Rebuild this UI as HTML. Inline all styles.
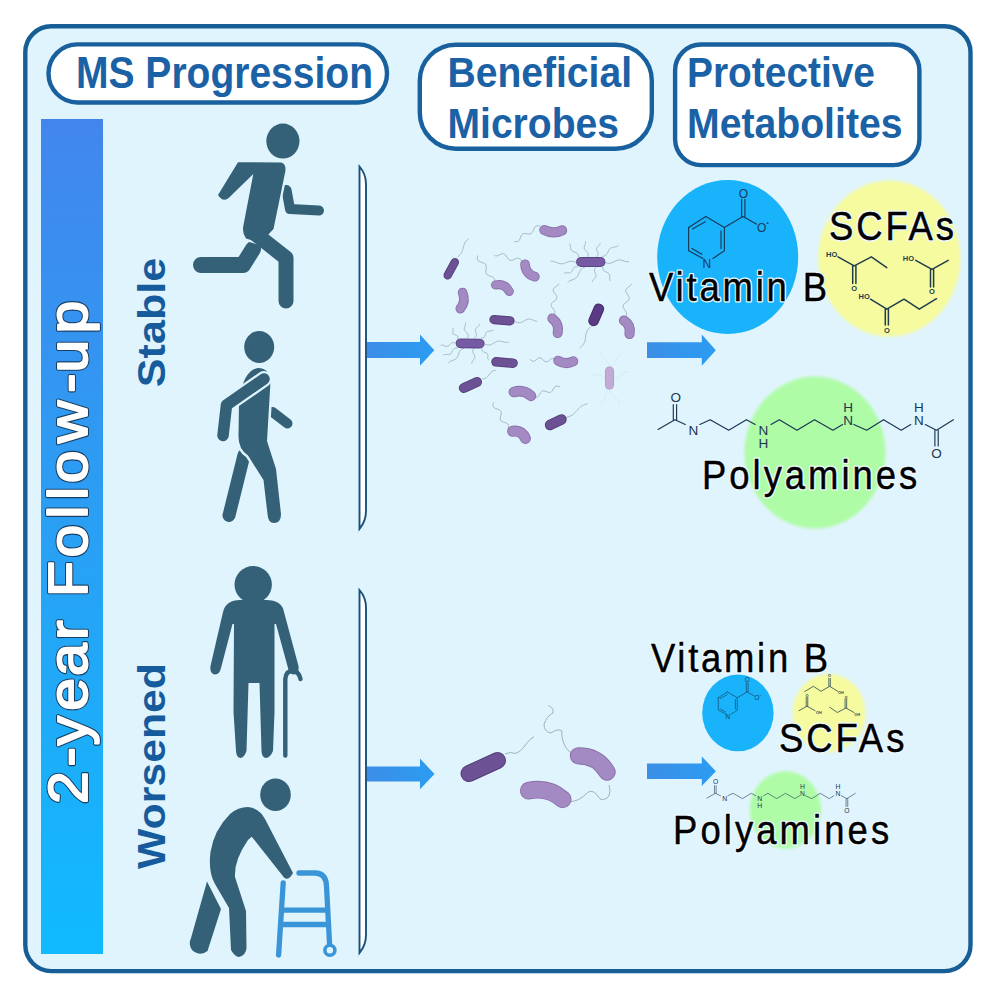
<!DOCTYPE html>
<html><head><meta charset="utf-8">
<style>
html,body{margin:0;padding:0;background:#fff;width:996px;height:996px;overflow:hidden}
svg{display:block}
text{font-family:"Liberation Sans",sans-serif}
</style></head>
<body>
<svg width="996" height="996" viewBox="0 0 996 996">
<defs>
<linearGradient id="bar" x1="0" y1="0" x2="0" y2="1">
<stop offset="0" stop-color="#4286ec"/>
<stop offset="1" stop-color="#10bafd"/>
</linearGradient>
<linearGradient id="arr" x1="0" y1="0" x2="1" y2="0"><stop offset="0" stop-color="#3c8ee6"/><stop offset="1" stop-color="#2b9cf2"/></linearGradient>
<filter id="soft" x="-10%" y="-10%" width="120%" height="120%"><feGaussianBlur stdDeviation="1.4"/></filter>
</defs>
<rect x="0" y="0" width="996" height="996" fill="#fff"/>
<!-- outer box -->
<rect x="25.3" y="26.3" width="945.2" height="944.8" rx="26" fill="#e0f4fd" stroke="#175e96" stroke-width="4.4"/>

<!-- header pills -->
<rect x="48.5" y="44.4" width="338.5" height="58.1" rx="29" fill="#fff" stroke="#18609e" stroke-width="4.4"/>
<rect x="419.8" y="44.7" width="232" height="104" rx="36" fill="#fff" stroke="#18609e" stroke-width="4.4"/>
<rect x="675.1" y="44.5" width="244.3" height="120.6" rx="26" fill="#fff" stroke="#18609e" stroke-width="4.4"/>

<g fill="#1b61a5" font-weight="bold">
<text id="t-ms" x="76" y="87.8" font-size="44.5" textLength="297" lengthAdjust="spacingAndGlyphs">MS Progression</text>
<text id="t-ben" x="447.5" y="87.3" font-size="42.7" textLength="184.5" lengthAdjust="spacingAndGlyphs">Beneficial</text>
<text id="t-mic" x="447.5" y="138.2" font-size="42.7" textLength="171.5" lengthAdjust="spacingAndGlyphs">Microbes</text>
<text id="t-pro" x="687" y="87.2" font-size="42.7" textLength="188" lengthAdjust="spacingAndGlyphs">Protective</text>
<text id="t-met" x="687" y="137.9" font-size="42.7" textLength="215.5" lengthAdjust="spacingAndGlyphs">Metabolites</text>
</g>

<!-- left bar -->
<rect x="41" y="119" width="62" height="835" fill="url(#bar)"/>
<g transform="translate(87,810) rotate(-90) scale(1,0.94)" font-size="59"><text id="t-fu" x="6.0 43.2 64.4 99.3 134.0 170.0 189.6 213.0 252.5 291.3 310.0 326.8 366.7 416.9 437.4 476.5" y="0" fill="#183e62" stroke="#183e62" stroke-width="4.2" stroke-linejoin="round">2-year Follow-up</text><text x="6.0 43.2 64.4 99.3 134.0 170.0 189.6 213.0 252.5 291.3 310.0 326.8 366.7 416.9 437.4 476.5" y="0" fill="#fff" stroke="#fff" stroke-width="2.0" stroke-linejoin="round">2-year Follow-up</text></g>

<text id="t-st" transform="translate(165,387.2) rotate(-90)" x="0" y="0" font-size="39" font-weight="bold" fill="#165b9c" textLength="129.5" lengthAdjust="spacingAndGlyphs">Stable</text>
<text id="t-wo" transform="translate(165,869) rotate(-90)" x="0" y="0" font-size="39" font-weight="bold" fill="#165b9c" textLength="206" lengthAdjust="spacingAndGlyphs">Worsened</text>

<!-- brackets -->
<path d="M359.5,166.5 L359.5,529 Q366,521 366,511 L366,184 Q366,174 359.5,166.5 Z" fill="#fff" stroke="#1a4f7c" stroke-width="1.9"/>
<path d="M359.5,590 L359.5,953 Q366,945 366,935 L366,607.5 Q366,597.5 359.5,590 Z" fill="#fff" stroke="#1a4f7c" stroke-width="1.9"/>

<!-- arrows -->
<g fill="url(#arr)">
<path d="M367,342 H420 V334.6 L434.3,350.2 L420,365.7 V358 H367 Z"/>
<path d="M647,342.3 H701.8 V334.6 L715.8,350.2 L701.8,365.7 V358 H647 Z"/>
<path d="M367,766.5 H420 V758.6 L434.5,774 L420,789.3 V781.5 H367 Z"/>
<path d="M647,763.5 H701.8 V756.5 L715.9,771.2 L701.8,786 V779 H647 Z"/>
</g>

<!-- metabolite circles -->
<ellipse cx="727.7" cy="257" rx="70.5" ry="77" fill="#18b3fa"/>
<ellipse cx="889.3" cy="258.6" rx="71" ry="78" fill="#f6fb9f" filter="url(#soft)"/>
<ellipse cx="815" cy="452.6" rx="70.5" ry="76" fill="#affca7" filter="url(#soft)"/>
<ellipse cx="737.9" cy="712.9" rx="35.7" ry="38.4" fill="#18b3fa"/>
<ellipse cx="829" cy="713" rx="36.5" ry="39" fill="#f6fb9f" filter="url(#soft)"/>
<ellipse cx="785.5" cy="810" rx="35.8" ry="38.7" fill="#affca7" filter="url(#soft)"/>

<g id="figs" fill="#346178" stroke="none">
<!-- runner -->
<ellipse cx="282.9" cy="141.1" rx="16.6" ry="17.5"/>
<polyline points="286.5,190 290,209 319,210.5" fill="none" stroke="#346178" stroke-width="10" stroke-linecap="round" stroke-linejoin="round"/>
<polyline points="253,249 243,265 201,265" fill="none" stroke="#346178" stroke-width="16" stroke-linecap="round" stroke-linejoin="round"/>
<path d="M238,162.2 L281,162.4 Q286,163 285.4,171 L273.5,229 L260.5,243 L246,238.5 Q242,233 243.3,226 L253.3,174 L229.2,197.5 Q223,203 218,195 Z" fill="#e0f4fd" stroke="#e0f4fd" stroke-width="4.5" stroke-linejoin="round"/>
<path d="M238,162.2 L281,162.4 Q286,163 285.4,171 L273.5,229 L260.5,243 L246,238.5 Q242,233 243.3,226 L253.3,174 L229.2,197.5 Q223,203 218,195 Z"/>
<polyline points="253,232 286,258 286,301" fill="none" stroke="#346178" stroke-width="15" stroke-linecap="round" stroke-linejoin="round"/>

<!-- walker -->
<ellipse cx="259.2" cy="347" rx="15" ry="16"/>
<polyline points="272.5,412 287.5,423.5" fill="none" stroke="#346178" stroke-width="10" stroke-linecap="round"/>
<polyline points="244,455 229,515.5" fill="none" stroke="#346178" stroke-width="13" stroke-linecap="round"/>
<path d="M258,368 Q271,368 270.3,385 L267,441 L276,469 L281,514 Q281,523 274,523 Q268,523 267.5,514 L263.5,480 L248,455.5 Q238,449 238.5,435 L239,402 Q243,370 258,368 Z" fill="#e0f4fd" stroke="#e0f4fd" stroke-width="5" stroke-linejoin="round"/>
<path d="M258,368 Q271,368 270.3,385 L267,441 L276,469 L281,514 Q281,523 274,523 Q268,523 267.5,514 L263.5,480 L248,455.5 Q238,449 238.5,435 L239,402 Q243,370 258,368 Z"/>
<polyline points="264,379 226.5,405 223,435.5" fill="none" stroke="#e0f4fd" stroke-width="16" stroke-linecap="round" stroke-linejoin="round"/>
<polyline points="264,379 226.5,405 223,435.5" fill="none" stroke="#346178" stroke-width="11.5" stroke-linecap="round" stroke-linejoin="round"/>

<!-- old man with cane -->
<ellipse cx="253.2" cy="584.6" rx="18.7" ry="18.6"/>
<path d="M240,600 L266,600 Q282,600 284,612 L298.5,666 Q299.5,674 293.5,674.5 Q289,674.5 288,668 L276,624 L274.5,624 L274.5,712 L273,751 Q270,758 266,758 Q262,758 261.5,751 L259.5,683 L248.5,683 L246.5,751 Q244,758 240.5,758 Q236.5,758 236,751 L233.5,712 L234,624 L232.5,624 L221,668 Q219.5,674.5 215,674.5 Q209.5,673.5 210.5,666 L223,612 Q226,600 240,600 Z"/>
<path d="M285.3,755.5 L285.3,679 Q286,671 292,671 Q299,671 300.5,679" fill="none" stroke="#346178" stroke-width="4.4" stroke-linecap="round"/>

<!-- bent man with walker frame -->
<ellipse cx="275.5" cy="794.8" rx="15.3" ry="16.2"/>
<path d="M207,881.5 L221,909 L207.5,951 Q200,957 192,950 Q188,944 191,938 Z" />
<path d="M248,807 Q238,807 230,814 Q214,830 210.5,852 Q208,872 215,884 L229,908 L231,950 Q235,957 239,957 Q246,955 246.5,948 L246,911 L235,877 Q234,860 248,840 L251.7,836.7 L284.2,877.7 Q289,881 293,873 L265,819 Q259,808 248,807 Z" fill="#e0f4fd" stroke="#e0f4fd" stroke-width="5" stroke-linejoin="round"/>
<path d="M248,807 Q238,807 230,814 Q214,830 210.5,852 Q208,872 215,884 L229,908 L231,950 Q235,957 239,957 Q246,955 246.5,948 L246,911 L235,877 Q234,860 248,840 L251.7,836.7 L284.2,877.7 Q289,881 293,873 L265,819 Q259,808 248,807 Z"/>
<g fill="none" stroke="#3a95d8" stroke-width="5.3" stroke-linecap="round">
<path d="M283.2,883 L278.6,955"/>
<path d="M299,873 L315,873 Q326,873 326.5,886 L329.5,943"/>
<path d="M282.5,910.2 H326.5 M282,924.5 H327.5" stroke-linecap="butt"/>
</g>
<circle cx="329.9" cy="950.2" r="5" fill="none" stroke="#3a95d8" stroke-width="3.6"/>
</g>

<!--BACT_START-->
<g id="bact" fill="none">
<path d="M457.5,257.0 L458.2,256.4 L459.0,255.8 L459.7,255.1 L460.3,254.5 L460.9,253.8 L461.4,253.0 L461.8,252.2 L462.2,251.4 L462.5,250.5 L462.8,249.6 L463.0,248.7 L463.2,247.8 L463.5,246.8 L463.7,245.9 L464.0,245.0 L464.3,244.1 L464.7,243.3 L465.1,242.5 L465.6,241.7 L466.2,241.0 L466.8,240.4 L467.5,239.7 L468.3,239.1 L469.0,238.5" fill="none" stroke="#9db2ba" stroke-width="0.90" opacity="1.00"/>
<path d="M494.5,283.0 L494.7,281.3 L494.7,279.7 L494.2,278.4 L493.3,277.4 L491.9,276.7 L490.2,276.1 L488.6,275.6 L487.2,274.8 L486.3,273.8 L485.8,272.5 L485.8,271.0 L486.0,269.2 L486.2,267.5 L486.2,266.0 L485.7,264.7 L484.8,263.7 L483.4,262.9 L481.8,262.4 L480.1,261.8 L478.7,261.1 L477.8,260.1 L477.3,258.8 L477.3,257.2 L477.5,255.5" fill="none" stroke="#9db2ba" stroke-width="0.90" opacity="1.00"/>
<path d="M522.0,261.5 L521.2,260.2 L520.3,259.1 L519.2,258.4 L518.1,258.2 L516.8,258.3 L515.4,258.8 L514.0,259.5 L512.6,260.1 L511.3,260.4 L510.1,260.3 L509.1,259.7 L508.1,258.7 L507.3,257.5 L506.4,256.2 L505.6,255.0 L504.6,254.2 L503.5,253.7 L502.3,253.8 L500.9,254.2 L499.5,254.8 L498.1,255.5 L496.7,255.9 L495.5,255.9 L494.4,255.5" fill="none" stroke="#9db2ba" stroke-width="0.90" opacity="1.00"/>
<path d="M540.0,226.0 L538.4,225.8 L536.9,225.8 L535.7,226.2 L534.8,227.1 L534.1,228.4 L533.5,229.9 L532.9,231.4 L532.2,232.7 L531.3,233.5 L530.1,233.9 L528.6,234.0 L527.0,233.8 L525.4,233.5 L523.9,233.6 L522.7,234.0 L521.8,234.8 L521.1,236.1 L520.5,237.6 L519.9,239.1 L519.2,240.4 L518.3,241.3 L517.1,241.7 L515.6,241.7 L514.0,241.5" fill="none" stroke="#9db2ba" stroke-width="0.90" opacity="1.00"/>
<path d="M515.0,321.5 L515.9,321.9 L516.9,322.3 L517.8,322.5 L518.8,322.7 L519.7,322.7 L520.6,322.5 L521.5,322.3 L522.4,321.9 L523.3,321.4 L524.2,320.9 L525.1,320.4 L525.9,319.9 L526.8,319.5 L527.7,319.2 L528.6,319.1 L529.6,319.1 L530.5,319.2 L531.4,319.5 L532.4,319.9 L533.3,320.2 L534.3,320.6 L535.2,321.0 L536.2,321.3 L537.1,321.4" fill="none" stroke="#9db2ba" stroke-width="0.90" opacity="1.00"/>
<path d="M578.6,257.0 L578.5,256.2 L578.4,255.4 L578.1,254.7 L577.8,254.1 L577.4,253.5 L576.9,253.1 L576.2,252.7 L575.5,252.4 L574.7,252.2 L574.0,251.9 L573.2,251.6 L572.5,251.3 L572.0,250.9 L571.5,250.4 L571.1,249.8 L570.9,249.1 L570.7,248.4 L570.6,247.6 L570.5,246.8 L570.4,246.0 L570.2,245.3 L569.9,244.6 L569.5,244.0 L569.1,243.5" fill="none" stroke="#9db2ba" stroke-width="0.90" opacity="1.00"/>
<path d="M587.4,257.0 L587.7,256.3 L587.9,255.5 L588.1,254.8 L588.1,254.2 L588.0,253.5 L587.7,252.9 L587.3,252.3 L586.8,251.7 L586.3,251.2 L585.7,250.6 L585.2,250.0 L584.7,249.5 L584.4,248.9 L584.2,248.2 L584.2,247.6 L584.3,246.9 L584.5,246.2 L584.7,245.4 L585.0,244.7 L585.3,243.9 L585.5,243.2 L585.6,242.5 L585.5,241.9 L585.3,241.2" fill="none" stroke="#9db2ba" stroke-width="0.90" opacity="1.00"/>
<path d="M596.3,257.0 L596.8,256.5 L597.3,256.0 L597.7,255.4 L598.0,254.8 L598.1,254.2 L598.1,253.6 L598.0,253.0 L597.7,252.3 L597.4,251.6 L597.1,250.9 L596.8,250.3 L596.6,249.6 L596.5,249.0 L596.6,248.4 L596.8,247.8 L597.2,247.2 L597.6,246.7 L598.1,246.2 L598.7,245.6 L599.2,245.1 L599.6,244.6 L600.0,244.0 L600.2,243.4 L600.2,242.8" fill="none" stroke="#9db2ba" stroke-width="0.90" opacity="1.00"/>
<path d="M601.8,256.5 L602.7,256.3 L603.6,256.1 L604.5,255.9 L605.2,255.5 L605.9,255.0 L606.5,254.4 L607.0,253.7 L607.5,252.9 L607.9,252.0 L608.3,251.1 L608.7,250.3 L609.2,249.6 L609.7,248.9 L610.3,248.4 L611.1,247.9 L611.9,247.6 L612.8,247.4 L613.7,247.2 L614.6,247.0 L615.5,246.9 L616.4,246.6 L617.2,246.3 L617.9,245.8 L618.5,245.3" fill="none" stroke="#9db2ba" stroke-width="0.90" opacity="1.00"/>
<path d="M605.1,262.5 L606.1,262.8 L607.2,263.1 L608.2,263.3 L609.2,263.4 L610.2,263.3 L611.1,263.1 L612.1,262.7 L613.0,262.3 L614.0,261.8 L614.9,261.2 L615.9,260.8 L616.9,260.4 L617.8,260.1 L618.8,259.9 L619.8,259.9 L620.8,260.1 L621.8,260.3 L622.9,260.6 L623.9,261.0 L624.9,261.3 L625.9,261.6 L626.9,261.7 L627.9,261.7 L628.9,261.5" fill="none" stroke="#9db2ba" stroke-width="0.90" opacity="1.00"/>
<path d="M602.9,266.9 L602.9,267.7 L603.0,268.5 L603.1,269.2 L603.3,269.8 L603.7,270.4 L604.1,270.9 L604.7,271.3 L605.4,271.6 L606.1,271.9 L606.8,272.3 L607.5,272.6 L608.2,273.0 L608.7,273.4 L609.1,273.9 L609.4,274.5 L609.6,275.2 L609.7,276.0 L609.7,276.8 L609.7,277.6 L609.7,278.3 L609.8,279.1 L610.0,279.8 L610.2,280.4 L610.7,280.9" fill="none" stroke="#9db2ba" stroke-width="0.90" opacity="1.00"/>
<path d="M596.3,267.0 L595.8,267.6 L595.3,268.1 L594.9,268.7 L594.6,269.3 L594.4,270.0 L594.5,270.6 L594.6,271.3 L594.8,272.0 L595.1,272.8 L595.5,273.5 L595.7,274.2 L595.9,274.9 L596.0,275.6 L595.9,276.2 L595.7,276.8 L595.4,277.4 L594.9,278.0 L594.4,278.6 L593.9,279.1 L593.3,279.7 L592.9,280.3 L592.5,280.9 L592.3,281.5 L592.3,282.2" fill="none" stroke="#9db2ba" stroke-width="0.90" opacity="1.00"/>
<path d="M585.2,267.0 L584.2,267.4 L583.2,267.8 L582.4,268.3 L581.6,268.9 L580.9,269.5 L580.3,270.3 L579.8,271.2 L579.3,272.1 L578.9,273.1 L578.6,274.1 L578.2,275.1 L577.7,276.0 L577.1,276.8 L576.5,277.5 L575.7,278.2 L574.9,278.7 L574.0,279.1 L573.0,279.5 L572.0,279.9 L571.0,280.3 L570.1,280.7 L569.2,281.3 L568.5,281.9 L567.8,282.6" fill="none" stroke="#9db2ba" stroke-width="0.90" opacity="1.00"/>
<path d="M577.5,266.9 L576.7,266.8 L576.0,266.8 L575.3,266.9 L574.7,267.1 L574.2,267.4 L573.7,267.8 L573.3,268.4 L573.0,269.0 L572.7,269.7 L572.4,270.4 L572.1,271.1 L571.7,271.6 L571.3,272.1 L570.8,272.5 L570.2,272.7 L569.5,272.9 L568.8,272.9 L568.1,272.8 L567.3,272.8 L566.6,272.8 L565.9,272.8 L565.2,272.9 L564.7,273.2 L564.2,273.5" fill="none" stroke="#9db2ba" stroke-width="0.90" opacity="1.00"/>
<path d="M576.4,262.5 L575.3,262.1 L574.2,261.7 L573.1,261.4 L572.1,261.2 L571.0,261.2 L569.9,261.3 L568.8,261.6 L567.7,262.0 L566.6,262.4 L565.6,262.8 L564.5,263.2 L563.4,263.6 L562.3,263.7 L561.2,263.8 L560.1,263.7 L559.1,263.5 L558.0,263.1 L556.9,262.7 L555.8,262.3 L554.7,261.9 L553.6,261.5 L552.6,261.3 L551.5,261.2 L550.4,261.3" fill="none" stroke="#9db2ba" stroke-width="0.90" opacity="1.00"/>
<path d="M591.5,326.0 L590.7,326.7 L589.9,327.5 L589.1,328.3 L588.4,329.1 L587.8,329.9 L587.2,330.8 L586.8,331.8 L586.4,332.8 L586.1,333.8 L585.9,334.9 L585.7,335.9 L585.6,337.1 L585.5,338.2 L585.3,339.2 L585.1,340.3 L584.8,341.3 L584.4,342.3 L584.0,343.3 L583.4,344.2 L582.8,345.0 L582.1,345.8 L581.3,346.6 L580.5,347.4 L579.7,348.1" fill="none" stroke="#9db2ba" stroke-width="0.90" opacity="1.00"/>
<path d="M552.0,316.0 L553.5,314.8 L554.6,313.6 L555.0,312.3 L554.6,310.8 L553.6,309.3 L552.4,307.8 L551.4,306.3 L551.0,304.8 L551.5,303.5 L552.6,302.3 L554.2,301.1 L555.7,300.0 L556.7,298.7 L557.0,297.4 L556.6,295.9 L555.5,294.4 L554.3,292.9 L553.4,291.3 L553.1,289.9 L553.6,288.6 L554.8,287.4 L556.4,286.2 L557.9,285.1 L558.9,283.8" fill="none" stroke="#9db2ba" stroke-width="0.90" opacity="1.00"/>
<path d="M623.5,318.0 L625.1,316.8 L626.2,315.5 L626.7,314.1 L626.3,312.6 L625.4,310.9 L624.2,309.2 L623.3,307.6 L623.0,306.1 L623.5,304.7 L624.7,303.4 L626.3,302.2 L627.9,301.0 L629.0,299.7 L629.4,298.3 L628.9,296.7 L627.9,295.1 L626.8,293.4 L625.9,291.8 L625.7,290.3 L626.3,288.9 L627.5,287.6 L629.2,286.4 L630.7,285.2 L631.7,283.9" fill="none" stroke="#9db2ba" stroke-width="0.90" opacity="1.00"/>
<path d="M457.6,338.7 L457.7,338.1 L457.8,337.4 L457.8,336.9 L457.7,336.4 L457.4,336.0 L457.1,335.6 L456.6,335.3 L456.0,335.1 L455.4,334.9 L454.8,334.8 L454.2,334.5 L453.7,334.3 L453.2,334.0 L452.9,333.6 L452.8,333.1 L452.7,332.6 L452.8,332.0 L452.9,331.4 L453.0,330.7 L453.1,330.1 L453.1,329.5 L453.0,329.0 L452.9,328.5 L452.6,328.2" fill="none" stroke="#9db2ba" stroke-width="0.90" opacity="1.00"/>
<path d="M467.5,338.2 L467.8,337.5 L468.0,336.7 L468.2,336.0 L468.2,335.4 L468.1,334.7 L467.8,334.1 L467.4,333.5 L466.9,332.9 L466.4,332.4 L465.8,331.8 L465.3,331.2 L464.8,330.7 L464.5,330.1 L464.3,329.4 L464.3,328.8 L464.4,328.1 L464.6,327.4 L464.8,326.6 L465.1,325.9 L465.4,325.1 L465.6,324.4 L465.7,323.7 L465.6,323.1 L465.4,322.4" fill="none" stroke="#9db2ba" stroke-width="0.90" opacity="1.00"/>
<path d="M474.2,338.2 L474.8,337.7 L475.4,337.2 L475.8,336.7 L476.2,336.1 L476.4,335.5 L476.4,334.8 L476.3,334.1 L476.2,333.4 L475.9,332.6 L475.7,331.9 L475.5,331.2 L475.4,330.5 L475.4,329.8 L475.5,329.1 L475.8,328.5 L476.2,328.0 L476.7,327.5 L477.3,327.0 L477.9,326.5 L478.5,326.0 L479.0,325.4 L479.4,324.9 L479.7,324.3 L479.8,323.7" fill="none" stroke="#9db2ba" stroke-width="0.90" opacity="1.00"/>
<path d="M480.8,338.2 L481.6,338.2 L482.3,338.1 L483.0,337.9 L483.6,337.6 L484.1,337.3 L484.5,336.8 L484.9,336.2 L485.2,335.5 L485.4,334.8 L485.6,334.0 L485.9,333.3 L486.2,332.7 L486.6,332.1 L487.1,331.7 L487.6,331.4 L488.3,331.2 L489.0,331.1 L489.8,331.0 L490.5,330.9 L491.3,330.9 L492.0,330.8 L492.6,330.5 L493.2,330.2 L493.7,329.8" fill="none" stroke="#9db2ba" stroke-width="0.90" opacity="1.00"/>
<path d="M484.7,344.3 L485.7,344.6 L486.8,344.8 L487.8,345.0 L488.8,345.0 L489.8,344.9 L490.8,344.6 L491.7,344.2 L492.7,343.7 L493.6,343.2 L494.5,342.6 L495.5,342.1 L496.4,341.6 L497.4,341.3 L498.3,341.1 L499.3,341.0 L500.4,341.1 L501.4,341.3 L502.4,341.6 L503.5,341.9 L504.5,342.2 L505.6,342.4 L506.6,342.5 L507.6,342.4 L508.6,342.2" fill="none" stroke="#9db2ba" stroke-width="0.90" opacity="1.00"/>
<path d="M481.9,348.1 L481.9,348.8 L481.9,349.5 L482.0,350.1 L482.1,350.7 L482.4,351.1 L482.9,351.5 L483.4,351.8 L484.0,352.1 L484.7,352.3 L485.4,352.5 L486.0,352.8 L486.6,353.1 L487.1,353.4 L487.5,353.8 L487.7,354.4 L487.8,354.9 L487.9,355.6 L487.8,356.3 L487.8,357.0 L487.8,357.7 L487.8,358.4 L488.0,359.0 L488.2,359.5 L488.6,359.9" fill="none" stroke="#9db2ba" stroke-width="0.90" opacity="1.00"/>
<path d="M474.2,348.1 L473.7,348.7 L473.3,349.3 L473.0,350.0 L472.7,350.6 L472.7,351.2 L472.8,351.9 L473.0,352.6 L473.3,353.2 L473.7,353.9 L474.1,354.6 L474.4,355.3 L474.7,355.9 L474.8,356.6 L474.9,357.2 L474.7,357.9 L474.4,358.5 L474.0,359.1 L473.6,359.7 L473.1,360.4 L472.6,361.0 L472.3,361.6 L472.0,362.2 L471.8,362.9 L471.9,363.5" fill="none" stroke="#9db2ba" stroke-width="0.90" opacity="1.00"/>
<path d="M464.2,348.1 L463.3,348.5 L462.4,348.9 L461.5,349.3 L460.8,349.9 L460.2,350.6 L459.6,351.3 L459.2,352.2 L458.8,353.1 L458.5,354.0 L458.2,355.0 L457.9,355.9 L457.5,356.8 L457.0,357.6 L456.5,358.3 L455.8,358.9 L455.0,359.4 L454.1,359.9 L453.2,360.2 L452.2,360.6 L451.3,361.0 L450.4,361.4 L449.7,361.9 L449.0,362.5 L448.4,363.3" fill="none" stroke="#9db2ba" stroke-width="0.90" opacity="1.00"/>
<path d="M457.6,348.1 L456.8,348.1 L456.0,348.1 L455.3,348.2 L454.6,348.4 L454.1,348.7 L453.6,349.2 L453.1,349.8 L452.7,350.4 L452.4,351.1 L452.0,351.8 L451.7,352.5 L451.2,353.2 L450.8,353.7 L450.2,354.1 L449.6,354.3 L448.9,354.5 L448.1,354.5 L447.4,354.5 L446.6,354.5 L445.8,354.5 L445.0,354.5 L444.3,354.7 L443.7,354.9 L443.2,355.3" fill="none" stroke="#9db2ba" stroke-width="0.90" opacity="1.00"/>
<path d="M455.4,343.2 L454.7,342.9 L454.0,342.7 L453.4,342.5 L452.7,342.5 L452.1,342.6 L451.5,342.9 L451.0,343.3 L450.5,343.8 L450.0,344.3 L449.5,344.9 L449.0,345.4 L448.4,345.9 L447.9,346.2 L447.3,346.4 L446.7,346.4 L446.0,346.3 L445.3,346.1 L444.6,345.9 L443.9,345.6 L443.3,345.3 L442.6,345.1 L441.9,345.0 L441.3,345.1 L440.7,345.3" fill="none" stroke="#9db2ba" stroke-width="0.90" opacity="1.00"/>
<path d="M482.0,379.0 L482.8,378.9 L483.5,378.8 L484.2,378.6 L484.9,378.4 L485.6,378.2 L486.2,377.8 L486.8,377.4 L487.3,377.0 L487.8,376.4 L488.3,375.8 L488.7,375.2 L489.1,374.6 L489.6,374.0 L490.0,373.4 L490.5,372.8 L491.0,372.2 L491.5,371.8 L492.1,371.4 L492.7,371.0 L493.4,370.8 L494.1,370.6 L494.8,370.4 L495.5,370.3 L496.3,370.2" fill="none" stroke="#9db2ba" stroke-width="0.90" opacity="1.00"/>
<path d="M533.0,396.5 L534.5,397.0 L535.8,397.3 L537.1,397.2 L538.1,396.5 L539.0,395.4 L539.8,394.1 L540.5,392.7 L541.4,391.6 L542.4,391.0 L543.7,390.8 L545.0,391.1 L546.5,391.6 L548.0,392.2 L549.3,392.5 L550.6,392.3 L551.6,391.7 L552.5,390.6 L553.2,389.2 L554.0,387.9 L554.9,386.8 L555.9,386.1 L557.2,386.0 L558.5,386.3 L560.0,386.8" fill="none" stroke="#9db2ba" stroke-width="0.90" opacity="1.00"/>
<path d="M556.0,360.5 L555.0,359.4 L553.9,358.7 L552.8,358.3 L551.8,358.6 L550.6,359.2 L549.5,360.2 L548.4,361.1 L547.2,361.8 L546.2,362.0 L545.1,361.7 L544.0,360.9 L543.0,359.9 L542.0,358.8 L540.9,358.0 L539.8,357.7 L538.8,357.9 L537.6,358.6 L536.5,359.5 L535.4,360.5 L534.2,361.1 L533.2,361.4 L532.1,361.0 L531.0,360.3 L530.0,359.2" fill="none" stroke="#9db2ba" stroke-width="0.90" opacity="1.00"/>
<path d="M609.5,367.0 L609.3,366.2 L609.1,365.5 L608.9,364.7 L608.6,364.0 L608.3,363.4 L608.0,362.7 L607.5,362.1 L607.1,361.5 L606.5,361.0 L606.0,360.5 L605.4,360.0 L604.8,359.5 L604.1,359.0 L603.5,358.5 L603.0,358.0 L602.4,357.5 L602.0,356.9 L601.5,356.3 L601.2,355.6 L600.9,355.0 L600.6,354.3 L600.4,353.5 L600.2,352.8 L600.0,352.0" fill="none" stroke="#9db2ba" stroke-width="0.90" opacity="0.18"/>
<path d="M609.5,367.0 L610.2,366.6 L610.9,366.3 L611.6,365.9 L612.2,365.4 L612.8,365.0 L613.3,364.4 L613.8,363.9 L614.3,363.3 L614.7,362.6 L615.1,361.9 L615.4,361.2 L615.8,360.5 L616.1,359.8 L616.4,359.1 L616.8,358.4 L617.2,357.7 L617.7,357.1 L618.2,356.6 L618.7,356.0 L619.3,355.6 L619.9,355.1 L620.6,354.7 L621.3,354.4 L622.0,354.0" fill="none" stroke="#9db2ba" stroke-width="0.90" opacity="0.18"/>
<path d="M609.5,389.0 L608.9,389.5 L608.3,390.0 L607.7,390.5 L607.2,391.0 L606.7,391.6 L606.3,392.2 L605.9,392.9 L605.6,393.5 L605.3,394.2 L605.1,395.0 L604.9,395.7 L604.8,396.5 L604.6,397.3 L604.4,398.0 L604.2,398.8 L603.9,399.5 L603.6,400.1 L603.2,400.8 L602.8,401.4 L602.3,402.0 L601.8,402.5 L601.2,403.0 L600.6,403.5 L600.0,404.0" fill="none" stroke="#9db2ba" stroke-width="0.90" opacity="0.18"/>
<path d="M609.5,389.0 L609.7,389.8 L610.0,390.6 L610.2,391.4 L610.5,392.1 L610.9,392.9 L611.3,393.5 L611.8,394.2 L612.3,394.8 L612.8,395.4 L613.5,395.9 L614.1,396.5 L614.8,397.0 L615.4,397.5 L616.0,398.1 L616.7,398.6 L617.2,399.2 L617.7,399.8 L618.2,400.5 L618.6,401.1 L619.0,401.9 L619.3,402.6 L619.5,403.4 L619.8,404.2 L620.0,405.0" fill="none" stroke="#9db2ba" stroke-width="0.90" opacity="0.18"/>
<path d="M605.0,378.0 L604.5,377.5 L603.9,377.0 L603.4,376.6 L602.8,376.2 L602.2,375.9 L601.6,375.6 L601.0,375.4 L600.3,375.2 L599.6,375.1 L598.9,375.0 L598.2,375.0 L597.5,375.0 L596.8,375.0 L596.1,375.0 L595.4,374.9 L594.7,374.8 L594.0,374.6 L593.4,374.4 L592.8,374.1 L592.2,373.8 L591.6,373.4 L591.1,373.0 L590.5,372.5 L590.0,372.0" fill="none" stroke="#9db2ba" stroke-width="0.90" opacity="0.18"/>
<path d="M614.0,378.0 L614.7,378.0 L615.4,378.0 L616.0,377.9 L616.7,377.8 L617.3,377.6 L617.9,377.4 L618.5,377.1 L619.0,376.8 L619.5,376.4 L620.0,376.0 L620.5,375.5 L621.0,375.0 L621.5,374.5 L622.0,374.0 L622.5,373.6 L623.0,373.2 L623.5,372.9 L624.1,372.6 L624.7,372.4 L625.3,372.2 L626.0,372.1 L626.6,372.0 L627.3,372.0 L628.0,372.0" fill="none" stroke="#9db2ba" stroke-width="0.90" opacity="0.18"/>
<path d="M566.0,417.5 L567.1,417.2 L568.1,416.9 L569.1,416.5 L570.1,416.1 L571.1,415.6 L572.0,415.1 L572.9,414.5 L573.7,413.8 L574.5,413.0 L575.3,412.3 L576.0,411.4 L576.8,410.6 L577.5,409.8 L578.2,408.9 L579.0,408.2 L579.8,407.4 L580.6,406.7 L581.5,406.1 L582.4,405.6 L583.4,405.1 L584.4,404.7 L585.4,404.3 L586.4,404.0 L587.5,403.7" fill="none" stroke="#9db2ba" stroke-width="0.90" opacity="1.00"/>
<path d="M508.0,429.0 L508.4,427.3 L508.5,425.8 L508.2,424.6 L507.3,423.6 L506.0,422.9 L504.4,422.4 L502.8,421.8 L501.4,421.1 L500.5,420.1 L500.2,418.9 L500.3,417.4 L500.8,415.7 L501.2,414.0 L501.3,412.5 L501.0,411.3 L500.1,410.3 L498.7,409.6 L497.1,409.0 L495.5,408.5 L494.2,407.8 L493.3,406.8 L493.0,405.6 L493.1,404.1 L493.5,402.4" fill="none" stroke="#9db2ba" stroke-width="0.90" opacity="1.00"/>
<path d="M454.8,262.3 L447.7,275.3" stroke="#533c78" stroke-width="8.4" stroke-linecap="round"/><path d="M454.8,262.3 L447.7,275.3" stroke="#6c5194" stroke-width="6.6" stroke-linecap="round"/>
<path d="M544.32,230.08 Q553.11,234.65 562.08,230.42" stroke="#8a70aa" stroke-width="10.2" stroke-linecap="round"/><path d="M544.32,230.08 Q553.11,234.65 562.08,230.42" stroke="#a48ac3" stroke-width="8.4" stroke-linecap="round"/>
<path d="M495.58,284.95 Q504.78,283.08 509.22,291.35" stroke="#8a70aa" stroke-width="9.2" stroke-linecap="round"/><path d="M495.58,284.95 Q504.78,283.08 509.22,291.35" stroke="#a48ac3" stroke-width="7.4" stroke-linecap="round"/>
<path d="M525.04,264.23 Q525.56,273.92 534.86,276.67" stroke="#8a70aa" stroke-width="9.7" stroke-linecap="round"/><path d="M525.04,264.23 Q525.56,273.92 534.86,276.67" stroke="#a48ac3" stroke-width="7.9" stroke-linecap="round"/>
<path d="M462.59,292.58 Q466.30,301.29 460.31,308.62" stroke="#8a70aa" stroke-width="9.7" stroke-linecap="round"/><path d="M462.59,292.58 Q466.30,301.29 460.31,308.62" stroke="#a48ac3" stroke-width="7.9" stroke-linecap="round"/>
<path d="M494.0,319.6 L510.0,320.8" stroke="#533c78" stroke-width="9.2" stroke-linecap="round"/><path d="M494.0,319.6 L510.0,320.8" stroke="#6c5194" stroke-width="7.4" stroke-linecap="round"/>
<path d="M581.0,262.0 L600.5,262.0" stroke="#5a4484" stroke-width="9.9" stroke-linecap="round"/><path d="M581.0,262.0 L600.5,262.0" stroke="#765aa3" stroke-width="8.1" stroke-linecap="round"/>
<path d="M598.8,308.8 L593.6,320.8" stroke="#452a6a" stroke-width="10.7" stroke-linecap="round"/><path d="M598.8,308.8 L593.6,320.8" stroke="#5a3a84" stroke-width="8.9" stroke-linecap="round"/>
<path d="M552.30,318.51 Q559.59,324.04 557.70,332.99" stroke="#8a70aa" stroke-width="10.0" stroke-linecap="round"/><path d="M552.30,318.51 Q559.59,324.04 557.70,332.99" stroke="#a48ac3" stroke-width="8.2" stroke-linecap="round"/>
<path d="M623.97,320.53 Q631.28,325.37 629.53,333.97" stroke="#8a70aa" stroke-width="10.2" stroke-linecap="round"/><path d="M623.97,320.53 Q631.28,325.37 629.53,333.97" stroke="#a48ac3" stroke-width="8.4" stroke-linecap="round"/>
<path d="M460.5,343.3 L479.8,343.6" stroke="#5a4484" stroke-width="9.7" stroke-linecap="round"/><path d="M460.5,343.3 L479.8,343.6" stroke="#765aa3" stroke-width="7.9" stroke-linecap="round"/>
<path d="M496.0,361.8 L513.0,363.2" stroke="#533c78" stroke-width="9.6" stroke-linecap="round"/><path d="M496.0,361.8 L513.0,363.2" stroke="#6c5194" stroke-width="7.8" stroke-linecap="round"/>
<path d="M463.8,388.0 L477.0,382.0" stroke="#533c78" stroke-width="10.0" stroke-linecap="round"/><path d="M463.8,388.0 L477.0,382.0" stroke="#6c5194" stroke-width="8.2" stroke-linecap="round"/>
<path d="M513.90,392.06 Q523.51,389.17 531.00,395.84" stroke="#8a70aa" stroke-width="10.6" stroke-linecap="round"/><path d="M513.90,392.06 Q523.51,389.17 531.00,395.84" stroke="#a48ac3" stroke-width="8.8" stroke-linecap="round"/>
<path d="M558.24,360.67 Q565.56,365.20 573.26,361.33" stroke="#8a70aa" stroke-width="10.0" stroke-linecap="round"/><path d="M558.24,360.67 Q565.56,365.20 573.26,361.33" stroke="#a48ac3" stroke-width="8.2" stroke-linecap="round"/>
<path d="M609.5,371.0 L609.5,385.0" stroke="#b39cc8" stroke-width="9.1" stroke-linecap="round"/><path d="M609.5,371.0 L609.5,385.0" stroke="#c3abd6" stroke-width="7.3" stroke-linecap="round"/>
<path d="M550.0,425.0 L561.5,419.5" stroke="#533c78" stroke-width="10.4" stroke-linecap="round"/><path d="M550.0,425.0 L561.5,419.5" stroke="#6c5194" stroke-width="8.6" stroke-linecap="round"/>
<path d="M512.63,431.25 Q521.75,429.97 525.37,438.45" stroke="#8a70aa" stroke-width="11.0" stroke-linecap="round"/><path d="M512.63,431.25 Q521.75,429.97 525.37,438.45" stroke="#a48ac3" stroke-width="9.2" stroke-linecap="round"/>
<path d="M505,754 Q511,751 515,753.5 Q521,752 526,744 Q530,739 534,736.6" fill="none" stroke="#9db2ba" stroke-width="1"/>
<path d="M574,754 Q567,751 564.8,745.6 Q561,737 562,731 Q558,728 551,733 Q544,732 544,724 Q547,716 553,713 Q554,708 548.5,705.5" fill="none" stroke="#9db2ba" stroke-width="1"/>
<path d="M569,801.5 Q579,802 587.4,792.6 Q593,788 600,798.9 Q605,801 609,796 Q611,790 609,785" fill="none" stroke="#9db2ba" stroke-width="1"/>
<path d="M469.0,773.5 L497.5,760.5" stroke="#533c78" stroke-width="16.9" stroke-linecap="round"/><path d="M469.0,773.5 L497.5,760.5" stroke="#6c5194" stroke-width="15.1" stroke-linecap="round"/>
<path d="M578.41,755.86 Q597.49,755.65 607.09,772.14" stroke="#8a70aa" stroke-width="17.2" stroke-linecap="round"/><path d="M578.41,755.86 Q597.49,755.65 607.09,772.14" stroke="#a48ac3" stroke-width="15.4" stroke-linecap="round"/>
<path d="M528.80,790.72 Q547.91,786.47 562.70,799.28" stroke="#8a70aa" stroke-width="17.7" stroke-linecap="round"/><path d="M528.80,790.72 Q547.91,786.47 562.70,799.28" stroke="#a48ac3" stroke-width="15.9" stroke-linecap="round"/>
</g>
<!--BACT_END-->
<!--MOL_START-->
<g id="mols" fill="none" stroke-linecap="round" stroke-linejoin="round">
<g id="nic" stroke="#173a5a" stroke-width="1.15">
<path d="M705.8,216.5 L724.4,227.4 L724.4,250.8 L712.9,258.4 M702.9,258.4 L688.6,250.8 L688.6,227.4 M692.4,228.9 L705.3,221.7 M721,230.8 L721,248.4 M691.9,248.4 L701.9,254.2"/>
<path d="M688.6,227.4 L705.8,216.5"/>
<path d="M724.4,227.4 L743,216.5 L756.3,224.1 M741.6,216.5 V199.3 M744.9,216.5 V199.3"/>
<g fill="#173a5a" stroke="none" font-size="12" text-anchor="middle">
<text x="706.8" y="267.5">N</text>
<text x="743.4" y="198">O</text>
<text x="761.6" y="232.3">O</text>
<circle cx="767.6" cy="223.2" r="0.9"/>
</g>
</g>
<g id="scfa" stroke="#1f3d4c" stroke-width="1.5">
<path d="M838,256.8 L854.2,265.8 L871.4,256.8 L886.8,267.6 M852.7,265.8 V283.5 M855.9,265.8 V283.5"/>
<path d="M915.7,260.4 L932,269.4 L948.2,260.4 M930.5,269.4 V287 M933.6,269.4 V287"/>
<path d="M870.5,299.2 L886.8,309.2 L904,299.2 L919.3,309.2 L936.5,298.7 M885.3,309.2 V325 M888.4,309.2 V325"/>
<g fill="#1f3d4c" stroke="none" font-size="7.5" font-weight="bold" text-anchor="middle">
<text x="831.6" y="256.8">HO</text>
<text x="854.2" y="290.5">O</text>
<text x="908.4" y="260.8">HO</text>
<text x="932" y="293.7">O</text>
<text x="864.2" y="299.3">HO</text>
<text x="886.8" y="333">O</text>
</g>
</g>
<g id="pa" stroke="#1a3550" stroke-width="1.15">
<path d="M658,429.4 L674.9,419.7 L685.3,424.5 M699.8,424.5 L710.2,419.7 L728.7,430.2 L746.4,419.7 L755.2,424.5 M771,424.5 L779.3,419.7 L797,430.2 L814.5,419.7 L832.9,430.2 L842.6,424.5 M853.8,424.5 L866.7,430.2 L883.5,419.7 L901.2,430.2 L910.8,424.5 M925.3,424.5 L936.5,430.2 L953.4,419.7"/>
<path d="M673.3,419.7 V404.5 M676.6,419.7 V404.5 M934.9,430.2 V446 M938.2,430.2 V446"/>
<g fill="#1a3550" stroke="none" font-size="13.5" text-anchor="middle">
<text x="675.7" y="402">O</text>
<text x="693.4" y="435">N</text>
<text x="763.3" y="435">N</text>
<text x="763.3" y="448">H</text>
<text x="848.2" y="424.5">N</text>
<text x="848.2" y="411.7">H</text>
<text x="918.9" y="424.5">N</text>
<text x="918.9" y="411.7">H</text>
<text x="936.5" y="458.3">O</text>
</g>
</g>
<use href="#nic" transform="translate(727.5,703.3) scale(0.53) translate(-706,-238)"/>
<use href="#scfa" transform="translate(1273,840.9) scale(-0.5)"/>
<use href="#pa" transform="translate(706.8,798.2) scale(0.503) translate(-658,-429.4)"/>
</g>
<!--MOL_END-->
<g fill="#eefaff" stroke="#eefaff" stroke-width="3.2" stroke-linejoin="round">
<text transform="translate(649.0,301.0) scale(0.9,1)" x="0" y="0" font-size="40.5" textLength="197.8" lengthAdjust="spacing">Vitamin B</text>
<text transform="translate(829.0,239.8) scale(0.9,1)" x="0" y="0" font-size="40.5" textLength="138.9" lengthAdjust="spacing">SCFAs</text>
<text transform="translate(702.0,488.9) scale(0.9,1)" x="0" y="0" font-size="40.5" textLength="239.2" lengthAdjust="spacing">Polyamines</text>
<text transform="translate(651.0,671.8) scale(0.9,1)" x="0" y="0" font-size="40.5" textLength="196.7" lengthAdjust="spacing">Vitamin B</text>
<text transform="translate(779.0,751.7) scale(0.9,1)" x="0" y="0" font-size="40.5" textLength="139.3" lengthAdjust="spacing">SCFAs</text>
<text transform="translate(673.0,843.6) scale(0.9,1)" x="0" y="0" font-size="40.5" textLength="240.2" lengthAdjust="spacing">Polyamines</text>
</g>
<g fill="#000" stroke="#000" stroke-width="0.45" stroke-linejoin="round">
<text id="t-vb1" transform="translate(649.0,301.0) scale(0.9,1)" x="0" y="0" font-size="40.5" textLength="197.8" lengthAdjust="spacing">Vitamin B</text>
<text id="t-sc1" transform="translate(829.0,239.8) scale(0.9,1)" x="0" y="0" font-size="40.5" textLength="138.9" lengthAdjust="spacing">SCFAs</text>
<text id="t-po1" transform="translate(702.0,488.9) scale(0.9,1)" x="0" y="0" font-size="40.5" textLength="239.2" lengthAdjust="spacing">Polyamines</text>
<text id="t-vb2" transform="translate(651.0,671.8) scale(0.9,1)" x="0" y="0" font-size="40.5" textLength="196.7" lengthAdjust="spacing">Vitamin B</text>
<text id="t-sc2" transform="translate(779.0,751.7) scale(0.9,1)" x="0" y="0" font-size="40.5" textLength="139.3" lengthAdjust="spacing">SCFAs</text>
<text id="t-po2" transform="translate(673.0,843.6) scale(0.9,1)" x="0" y="0" font-size="40.5" textLength="240.2" lengthAdjust="spacing">Polyamines</text>
</g>
</svg>
</body></html>
